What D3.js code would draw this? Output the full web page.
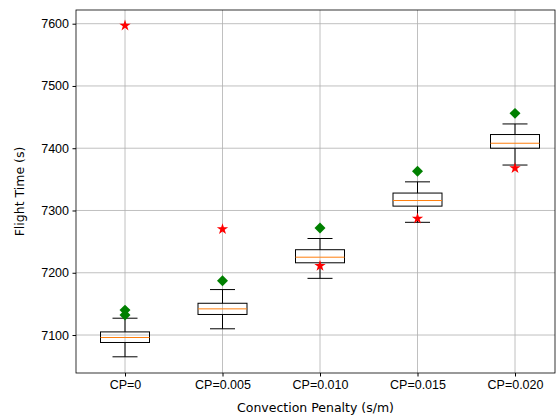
<!DOCTYPE html>
<html>
<head>
<meta charset="UTF-8" />
<script src="https://d3js.org/d3.v7.min.js"></script>
<style>
  body { margin: 0; background: #fff; font-family: "DejaVu Sans", sans-serif; }
  .tick text { font-size: 12.5px; fill: #000; }
</style>
</head>
<body>
<svg id="chart" width="556" height="419"></svg>
<script>
const categories = ['CP=0', 'CP=0.005', 'CP=0.010', 'CP=0.015', 'CP=0.020'];
const whiskerLow = [7065, 7110, 7191, 7281, 7373];
const q1 = [7088, 7133, 7216, 7307, 7400];
const median = [7096, 7142, 7225, 7316, 7408];
const q3 = [7105, 7151, 7237, 7328, 7422];
const whiskerHigh = [7127, 7173, 7255, 7346, 7439];
const diamonds = [[7140, 7132], [7187], [7272], [7363], [7456]];
const stars = [7597, 7270, 7211, 7287, 7368];
const yTicks = [7100, 7200, 7300, 7400, 7500, 7600];

const svg = d3.select('#chart');
const L = 76, R = 555, T = 10, B = 373;
const x = d3.scaleLinear().domain([1, 5]).range([125, 515]);
const y = d3.scaleLinear().domain([7039, 7622]).range([B, T]);

// grid
svg.append('g').selectAll('line').data(yTicks).join('line')
  .attr('x1', L).attr('x2', R).attr('y1', d => y(d)).attr('y2', d => y(d))
  .attr('stroke', '#b0b0b0').attr('stroke-width', 0.8);
svg.append('g').selectAll('line').data(categories).join('line')
  .attr('x1', (d, i) => x(i + 1)).attr('x2', (d, i) => x(i + 1)).attr('y1', T).attr('y2', B)
  .attr('stroke', '#b0b0b0').attr('stroke-width', 0.8);

// axes
const yAxis = svg.append('g').attr('transform', `translate(${L},0)`)
  .call(d3.axisLeft(y).tickValues(yTicks).tickSize(3.5).tickPadding(3.5).tickFormat(d3.format('d')));
const xAxis = svg.append('g').attr('transform', `translate(0,${B})`)
  .call(d3.axisBottom(x).tickValues([1, 2, 3, 4, 5]).tickSize(3.5).tickPadding(3.5).tickFormat((d, i) => categories[i]));
[yAxis, xAxis].forEach(a => { a.select('.domain').remove(); a.selectAll('.tick line').attr('stroke', '#000'); });
svg.append('rect').attr('x', L).attr('y', T).attr('width', R - L).attr('height', B - T)
  .attr('fill', 'none').attr('stroke', '#000').attr('stroke-width', 0.8);

// boxes
const bw = 49, cw = 25;
const g = svg.append('g').selectAll('g').data(categories).join('g');
g.append('line').attr('x1', (d, i) => x(i + 1)).attr('x2', (d, i) => x(i + 1))
  .attr('y1', (d, i) => y(whiskerLow[i])).attr('y2', (d, i) => y(q1[i])).attr('stroke', '#000');
g.append('line').attr('x1', (d, i) => x(i + 1)).attr('x2', (d, i) => x(i + 1))
  .attr('y1', (d, i) => y(q3[i])).attr('y2', (d, i) => y(whiskerHigh[i])).attr('stroke', '#000');
[whiskerLow, whiskerHigh].forEach(arr => {
  g.append('line').attr('x1', (d, i) => x(i + 1) - cw / 2).attr('x2', (d, i) => x(i + 1) + cw / 2)
    .attr('y1', (d, i) => y(arr[i])).attr('y2', (d, i) => y(arr[i])).attr('stroke', '#000');
});
g.append('rect').attr('x', (d, i) => x(i + 1) - bw / 2).attr('width', bw)
  .attr('y', (d, i) => y(q3[i])).attr('height', (d, i) => y(q1[i]) - y(q3[i]))
  .attr('fill', 'none').attr('stroke', '#000');
g.append('line').attr('x1', (d, i) => x(i + 1) - bw / 2).attr('x2', (d, i) => x(i + 1) + bw / 2)
  .attr('y1', (d, i) => y(median[i])).attr('y2', (d, i) => y(median[i])).attr('stroke', '#ff7f0e');

// markers
const dia = d3.symbol().type(d3.symbolSquare).size(60);
diamonds.forEach((vals, i) => vals.forEach(v => {
  svg.append('path').attr('d', dia()).attr('fill', 'green')
    .attr('transform', `translate(${x(i + 1)},${y(v)}) rotate(45)`);
}));
const star = d3.symbol().type(d3.symbolStar).size(40);
stars.forEach((v, i) => {
  svg.append('path').attr('d', star()).attr('fill', 'red')
    .attr('transform', `translate(${x(i + 1)},${y(v)})`);
});

// labels
svg.append('text').attr('x', (L + R) / 2).attr('y', 412).attr('text-anchor', 'middle')
  .attr('font-size', 12.5).text('Convection Penalty (s/m)');
svg.append('text').attr('transform', `translate(24,${(T + B) / 2}) rotate(-90)`).attr('text-anchor', 'middle')
  .attr('font-size', 12.5).text('Flight Time (s)');
</script>
</body>
</html>
